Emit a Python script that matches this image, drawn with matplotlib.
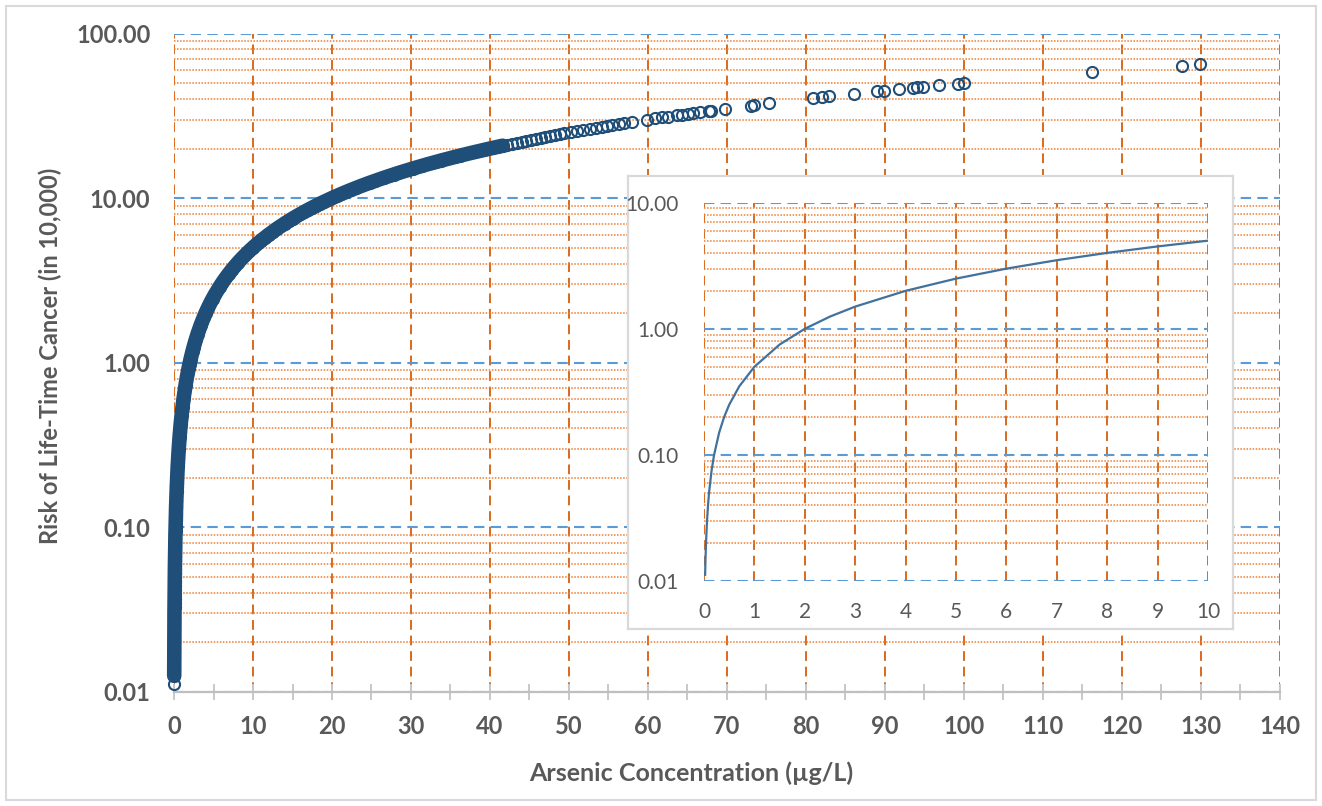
import matplotlib
matplotlib.use("Agg")
import matplotlib.pyplot as plt
from matplotlib.ticker import MultipleLocator, LogLocator, NullFormatter, FuncFormatter, FixedLocator
from matplotlib.patches import Rectangle

plt.rcParams['font.family'] = ['Lato', 'DejaVu Sans']

# ---------------- data ----------------
conc_ugL = [
    0.0224, 0.025, 0.027, 0.029, 0.031, 0.033, 0.035, 0.037, 0.04, 0.042,
    0.045, 0.048, 0.051, 0.054, 0.057, 0.061, 0.065, 0.069, 0.073, 0.078,
    0.083, 0.088, 0.093, 0.099, 0.105, 0.112, 0.119, 0.126, 0.134, 0.142,
    0.151, 0.16, 0.17, 0.18, 0.19, 0.2, 0.22, 0.23, 0.24, 0.26,
    0.27, 0.29, 0.31, 0.33, 0.35, 0.37, 0.39, 0.42, 0.44, 0.47,
    0.5, 0.53, 0.56, 0.6, 0.63, 0.67, 0.71, 0.76, 0.8, 0.85,
    0.9, 0.96, 1.02, 1.08, 1.15, 1.22, 1.3, 1.38, 1.46, 1.55,
    1.65, 1.75, 1.86, 1.97, 2.1, 2.2, 2.35, 2.5, 2.65, 2.8,
    3.0, 3.2, 3.4, 3.6, 3.8, 4.0, 4.3, 4.6, 4.9, 5.2,
    5.5, 5.8, 6.1, 6.5, 6.9, 7.3, 7.7, 8.1, 8.5, 9.0,
    9.5, 10.0, 10.5, 11.0, 11.5, 12.0, 12.5, 13.0, 13.5, 14.0,
    14.5, 15.0, 15.5, 16.0, 16.5, 17.0, 17.5, 18.0, 18.5, 19.0,
    19.5, 20.0, 20.6, 21.2, 21.8, 22.4, 23.0, 23.6, 24.2, 24.8,
    25.4, 26.0, 26.6, 27.2, 27.8, 28.4, 29.0, 29.6, 30.2, 30.8,
    31.4, 32.0, 32.6, 33.2, 33.8, 34.4, 35.0, 35.6, 36.2, 36.8,
    37.4, 38.0, 38.6, 39.2, 39.8, 40.4, 41.0, 41.6, 42.2, 42.8,
    43.4, 44.0, 44.6, 45.2, 45.8, 46.4, 47.0, 47.6, 48.2, 48.8,
    49.4, 50.2, 51.0, 51.8, 52.6, 53.4, 54.2, 54.8, 55.5, 56.3,
    57.0, 58.0, 59.9, 60.9, 61.8, 62.5, 63.7, 64.3, 65.1, 65.7,
    66.6, 67.7, 68.0, 69.7, 73.0, 73.4, 75.3, 80.9, 82.0, 82.9,
    86.1, 89.0, 89.9, 91.8, 93.5, 94.0, 94.8, 96.8, 99.2, 100.0,
    116.2, 127.6, 129.9,
]
risk_per_10000 = [
    0.0112, 0.0125, 0.0135, 0.0145, 0.0155, 0.0165, 0.0175, 0.0185, 0.02, 0.021,
    0.0225, 0.024, 0.0255, 0.027, 0.0285, 0.0305, 0.0325, 0.0345, 0.0365, 0.039,
    0.0415, 0.044, 0.0465, 0.0495, 0.0525, 0.056, 0.0595, 0.063, 0.067, 0.071,
    0.0755, 0.08, 0.085, 0.09, 0.095, 0.1, 0.11, 0.115, 0.12, 0.13,
    0.135, 0.145, 0.155, 0.165, 0.175, 0.185, 0.195, 0.21, 0.22, 0.235,
    0.25, 0.265, 0.28, 0.3, 0.315, 0.335, 0.355, 0.38, 0.4, 0.425,
    0.45, 0.48, 0.51, 0.54, 0.575, 0.61, 0.65, 0.69, 0.73, 0.775,
    0.825, 0.875, 0.93, 0.985, 1.05, 1.1, 1.175, 1.25, 1.325, 1.4,
    1.5, 1.6, 1.7, 1.8, 1.9, 2.0, 2.15, 2.3, 2.45, 2.6,
    2.75, 2.9, 3.05, 3.25, 3.45, 3.65, 3.85, 4.05, 4.25, 4.5,
    4.75, 5.0, 5.25, 5.5, 5.75, 6.0, 6.25, 6.5, 6.75, 7.0,
    7.25, 7.5, 7.75, 8.0, 8.25, 8.5, 8.75, 9.0, 9.25, 9.5,
    9.75, 10.0, 10.3, 10.6, 10.9, 11.2, 11.5, 11.8, 12.1, 12.4,
    12.7, 13.0, 13.3, 13.6, 13.9, 14.2, 14.5, 14.8, 15.1, 15.4,
    15.7, 16.0, 16.3, 16.6, 16.9, 17.2, 17.5, 17.8, 18.1, 18.4,
    18.7, 19.0, 19.3, 19.6, 19.9, 20.2, 20.5, 20.8, 21.1, 21.4,
    21.7, 22.0, 22.3, 22.6, 22.9, 23.2, 23.5, 23.8, 24.1, 24.4,
    24.7, 25.1, 25.5, 25.9, 26.3, 26.7, 27.1, 27.4, 27.75, 28.15,
    28.5, 29.0, 29.95, 30.45, 30.9, 31.25, 31.85, 32.15, 32.55, 32.85,
    33.3, 33.85, 34.0, 34.85, 36.5, 36.7, 37.65, 40.45, 41.0, 41.45,
    43.05, 44.5, 44.95, 45.9, 46.75, 47.0, 47.4, 48.4, 49.6, 50.0,
    58.1, 63.8, 64.95,
]

inset_conc = [0.0224, 0.03, 0.04, 0.06, 0.08, 0.1, 0.15, 0.2, 0.3, 0.4, 0.5, 0.7,
              1.0, 1.5, 2.0, 2.5, 3.0, 4.0, 5.0, 6.0, 7.0, 8.0, 9.0, 10.0]
inset_risk = [0.0112, 0.015, 0.02, 0.03, 0.04, 0.05, 0.075, 0.1, 0.15, 0.2, 0.25, 0.35,
              0.5, 0.75, 1.0, 1.25, 1.5, 2.0, 2.5, 3.0, 3.5, 4.0, 4.5, 5.0]

main_xticks = list(range(0, 141, 10))
main_yticks = [0.01, 0.1, 1, 10, 100]
inset_xticks = list(range(0, 11))
inset_yticks = [0.01, 0.1, 1, 10]

# ---------------- style ----------------
TXT = '#595959'
BLUE_GRID = '#5b9bd5'
ORANGE_MINOR = '#ed7d31'
ORANGE_MAJOR = '#d9691e'
MARK = '#1f4e79'
DENSE_LO, DENSE_HI = 0.024, 42.0   # range where overlapping markers merge into a solid band

W, H = 1322, 806
fig = plt.figure(figsize=(W / 100, H / 100), dpi=100)

fig.patches.append(Rectangle((6 / W, 6 / H), (W - 12) / W, (H - 12) / H, transform=fig.transFigure,
                             fill=False, edgecolor='#d9d9d9', linewidth=1.5, zorder=0))

def px_axes(l, t, r, b):
    return [l / W, (H - b) / H, (r - l) / W, (b - t) / H]

# ---------------- main axes ----------------
ax = fig.add_axes(px_axes(174, 33.5, 1280, 691.7))
ax.set_yscale('log')
ax.set_xlim(0, 140)
ax.set_ylim(0.01, 100)
ax.set_axisbelow(True)

ax.xaxis.set_major_locator(FixedLocator(main_xticks))
ax.xaxis.set_minor_locator(MultipleLocator(5))
ax.yaxis.set_major_locator(FixedLocator(main_yticks))
ax.yaxis.set_minor_locator(LogLocator(base=10, subs=range(2, 10)))
ax.yaxis.set_minor_formatter(NullFormatter())
ax.yaxis.set_major_formatter(FuncFormatter(lambda v, p: f"{v:.2f}"))

for s in ['top', 'right', 'left']:
    ax.spines[s].set_visible(False)
ax.spines['bottom'].set_color('#bfbfbf')
ax.spines['bottom'].set_linewidth(1.6)

ax.tick_params(axis='x', which='both', direction='inout', length=12, width=1.4, color='#c8c8c8',
               labelsize=17, labelcolor=TXT, pad=11)
ax.tick_params(axis='y', which='both', length=0, labelsize=17, labelcolor=TXT, pad=17)

ax.yaxis.grid(True, which='major', color=BLUE_GRID, linestyle=(0, (5, 3)), linewidth=1.5)
ax.yaxis.grid(True, which='minor', color=ORANGE_MINOR, linestyle=(0, (1, 1)), linewidth=1.1)
ax.xaxis.grid(True, which='major', color=ORANGE_MAJOR, linestyle=(0, (5, 3)), linewidth=1.4)

for lbl in ax.get_xticklabels() + ax.get_yticklabels():
    lbl.set_fontweight('bold')

dense_x = [c for c in conc_ugL if DENSE_LO <= c <= DENSE_HI]
dense_y = [r for c, r in zip(conc_ugL, risk_per_10000) if DENSE_LO <= c <= DENSE_HI]
ax.plot(dense_x, dense_y, color=MARK, linewidth=10.5, solid_capstyle='round',
        solid_joinstyle='round', clip_on=False, zorder=3)
ax.plot(conc_ugL, risk_per_10000, linestyle='none', marker='o', markersize=8.0,
        markerfacecolor='none', markeredgecolor=MARK, markeredgewidth=1.5, clip_on=False, zorder=3)

fig.text(50 / W, (H - 356) / H, 'Risk of Life-Time Cancer (in 10,000)', rotation=90,
         ha='center', va='center', fontsize=17, fontweight='bold', color=TXT)
fig.text(691 / W, (H - 773) / H, 'Arsenic Concentration (µg/L)',
         ha='center', va='center', fontsize=18, fontweight='bold', color=TXT)

# ---------------- inset ----------------
box = fig.add_axes(px_axes(628, 176, 1233, 629), zorder=5)
box.set_facecolor('white')
box.set_xticks([])
box.set_yticks([])
for s in box.spines.values():
    s.set_color('#d9d9d9')
    s.set_linewidth(1.6)

ax2 = fig.add_axes(px_axes(704, 202.7, 1208, 581), zorder=6)
ax2.patch.set_alpha(0)
ax2.set_yscale('log')
ax2.set_xlim(0, 10)
ax2.set_ylim(0.01, 10)
ax2.set_axisbelow(True)
ax2.xaxis.set_major_locator(FixedLocator(inset_xticks))
ax2.yaxis.set_major_locator(FixedLocator(inset_yticks))
ax2.yaxis.set_minor_locator(LogLocator(base=10, subs=range(2, 10)))
ax2.yaxis.set_minor_formatter(NullFormatter())
ax2.yaxis.set_major_formatter(FuncFormatter(lambda v, p: f"{v:.2f}"))
for s in ax2.spines.values():
    s.set_visible(False)
ax2.tick_params(axis='both', which='both', length=0, labelsize=15, labelcolor=TXT)
ax2.tick_params(axis='y', pad=18)
ax2.tick_params(axis='x', pad=15)
ax2.yaxis.grid(True, which='major', color=BLUE_GRID, linestyle=(0, (5, 3)), linewidth=1.5)
ax2.yaxis.grid(True, which='minor', color=ORANGE_MINOR, linestyle=(0, (1, 1)), linewidth=1.1)
ax2.xaxis.grid(True, which='major', color=ORANGE_MAJOR, linestyle=(0, (5, 3)), linewidth=1.4)
ax2.plot(inset_conc, inset_risk, color='#41719c', linewidth=1.6, zorder=3)

fig.savefig('out.png', dpi=100)
